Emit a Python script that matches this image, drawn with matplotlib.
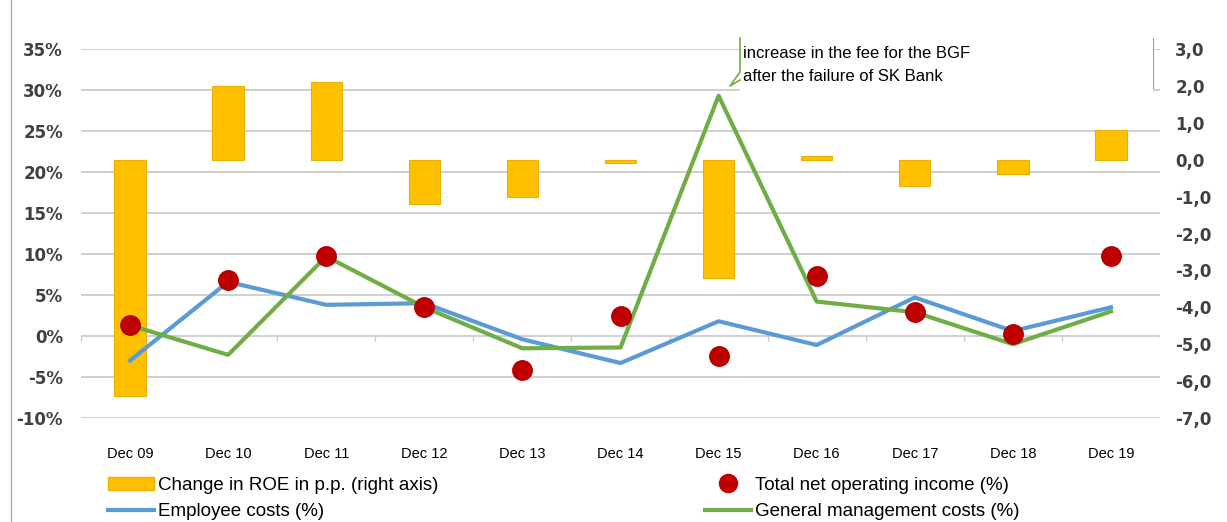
import matplotlib
matplotlib.use("Agg")
import matplotlib.pyplot as plt
from matplotlib.ticker import FuncFormatter
from matplotlib.patches import Rectangle
from matplotlib.lines import Line2D
import numpy as np

plt.rcParams["axes.unicode_minus"] = False
plt.rcParams["font.family"] = ["Liberation Sans", "DejaVu Sans"]

years = ["Dec 09", "Dec 10", "Dec 11", "Dec 12", "Dec 13", "Dec 14",
         "Dec 15", "Dec 16", "Dec 17", "Dec 18", "Dec 19"]
roe_change = [-6.4, 2.0, 2.1, -1.2, -1.0, -0.1, -3.2, 0.1, -0.7, -0.4, 0.8]
income = [1.4, 6.8, 9.7, 3.5, -4.1, 2.5, -2.4, 7.3, 2.9, 0.2, 9.7]
employee = [-3.0, 6.6, 3.8, 4.0, -0.4, -3.3, 1.8, -1.1, 4.7, 0.6, 3.5]
general = [1.3, -2.3, 9.7, 3.5, -1.5, -1.4, 29.3, 4.2, 2.9, -1.0, 3.0]

x = np.arange(len(years))
tick_col = "#404040"
W, H = 1227, 522

fig = plt.figure(figsize=(12.27, 5.22), dpi=100)
ax1 = fig.add_axes([81 / W, 1 - 418 / H, (1160 - 81) / W, (418 - 49) / H])
ax2 = ax1.twinx()
ax3 = ax1.twinx()

# left axis: gridlines + labels
ax1.set_ylim(-10, 35)
ax1.set_xlim(-0.5, len(years) - 0.5)
ax1.set_yticks(range(-10, 36, 5))
ax1.yaxis.set_major_formatter(FuncFormatter(lambda v, p: f"{v:.0f}%"))
ax1.grid(axis="y", color="#c8c8c8", lw=1.2)
ax1.set_axisbelow(True)
for s in ax1.spines.values():
    s.set_visible(False)
ax1.tick_params(axis="y", length=0, pad=13, labelcolor=tick_col)
for t in ax1.get_yticklabels():
    t.set_fontfamily("DejaVu Sans")
    t.set_fontweight("bold")
    t.set_fontsize(12)
ax1.set_xticks(x)
ax1.set_xticklabels(years, fontsize=10.5, color="black")
ax1.tick_params(axis="x", length=0, pad=21)
ax1.vlines(np.arange(-0.5, len(years)), -0.6, 0, color="#c8c8c8", lw=1)

# right axis: bars
ax2.bar(x, roe_change, width=0.32, color="#FFC000", edgecolor="#E8B000",
        lw=0.8, zorder=2)
ax2.set_ylim(-7, 3)
ax2.set_yticks(range(-7, 4))
ax2.yaxis.set_major_formatter(FuncFormatter(lambda v, p: f"{v:.1f}".replace(".", ",")))
for s in ax2.spines.values():
    s.set_visible(False)
ax2.tick_params(axis="y", length=0, pad=11, labelcolor=tick_col)
for t in ax2.get_yticklabels():
    t.set_fontfamily("DejaVu Sans")
    t.set_fontweight("bold")
    t.set_fontsize(12)

# lines + dots on top (left scale)
ax3.set_ylim(-10, 35)
ax3.set_xlim(-0.5, len(years) - 0.5)
ax3.axis("off")
ax3.plot(x, employee, color="#5B9BD5", lw=3, zorder=3)
ax3.plot(x, general, color="#70AD47", lw=3, zorder=4)
ax3.plot(x, income, "o", color="#C00000", ms=14, mec="#B00000", zorder=5,
         ls="none")

# callout box with text
fig.patches.append(Rectangle((740 / W, 1 - 94 / H), (1153 - 740) / W,
                             (94 - 38) / H, transform=fig.transFigure,
                             facecolor="white", edgecolor="none", zorder=6))
fig.add_artist(Line2D([740 / W, 740 / W, 730 / W, 740 / W],
                      [1 - 38 / H, 1 - 72 / H, 1 - 86 / H, 1 - 80 / H],
                      transform=fig.transFigure, color="#70AD47", lw=1.2, zorder=7))
fig.add_artist(Line2D([1153 / W, 1153 / W], [1 - 38 / H, 1 - 88 / H],
                      transform=fig.transFigure, color="#a0a0a0", lw=0.8, zorder=7))
fig.text(743 / W, 1 - 46 / H,
         "increase in the fee for the BGF\nafter the failure of SK Bank",
         fontsize=12, va="top", ha="left", linespacing=1.65, zorder=8)

# figure left border
fig.add_artist(Line2D([11 / W, 11 / W], [0, 1], transform=fig.transFigure,
                      color="#b0b0b0", lw=1))

# legends
h_bar = Rectangle((0, 0), 1, 1, facecolor="#FFC000", edgecolor="#E8B000")
h_emp = Line2D([], [], color="#5B9BD5", lw=3)
h_inc = Line2D([], [], marker="o", color="#C00000", ls="none", ms=13)
h_gen = Line2D([], [], color="#70AD47", lw=3)
kw = dict(frameon=False, fontsize=13.5, handlelength=2.5, handletextpad=0.2,
          labelspacing=0.5, loc="upper left", borderaxespad=0)
fig.legend([h_bar, h_emp], ["Change in ROE in p.p. (right axis)", "Employee costs (%)"],
           bbox_to_anchor=(100 / W, 1 - 469 / H), **kw)
fig.legend([h_inc, h_gen], ["Total net operating income (%)", "General management costs (%)"],
           bbox_to_anchor=(697 / W, 1 - 469 / H), **kw)

fig.savefig("out.png", dpi=100)
